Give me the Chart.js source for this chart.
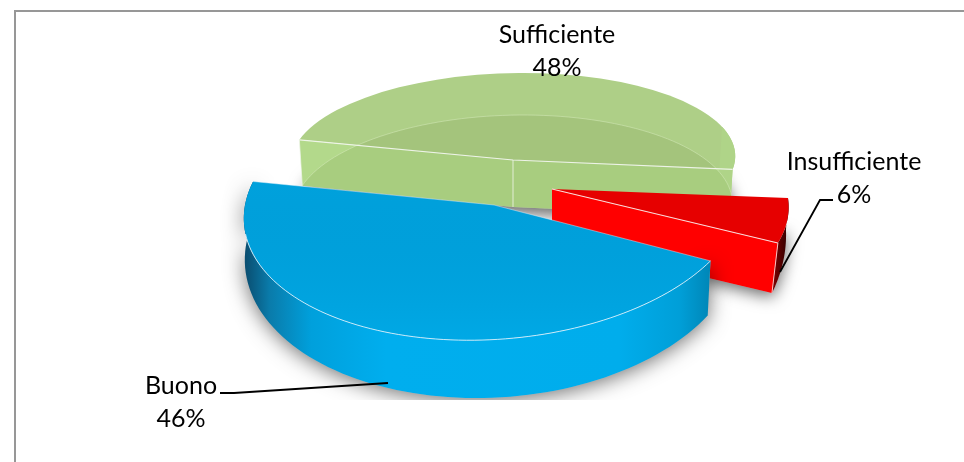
<!DOCTYPE html>
<html lang="en">
<head>
    <meta charset="UTF-8">
    <title>Giudizio 3D pie</title>
    <style>
        body { margin: 0; background: #fff; }
        #frame {
            position: absolute; left: 14px; top: 10px; right: 0; bottom: 0;
            border-top: 2px solid #979797;
            border-left: 2px solid #979797;
        }
        canvas { position: absolute; left: 0; top: 0; }
    </style>
</head>
<body>
    <div id="frame"></div>
    <canvas id="pie" width="964" height="462"></canvas>

    <script src="https://cdn.jsdelivr.net/npm/chart.js"></script>
    <script>
        var categories = ['Sufficiente', 'Insufficiente', 'Buono'];
        var values = [48, 6, 46];
        var faceColors = ['#AECF87', '#E60000', '#00A4E0'];

        // how each exploded slice is laid on the page (slice-plane to screen matrix, top and floor)
        var views = [
            { cx: 513, cy: 160, a: 222, b: 0, c: -10, d: 87,
              floor: { cx: 513, cy: 207, a: 219, b: 0, c: -10, d: 92 } },
            { cx: 552, cy: 189, a: 232.7, b: -4.4, c: 43, d: 124.2,
              floor: { cx: 552, cy: 241, a: 231.9, b: -29.2, c: 31.8, d: 166.9 } },
            { cx: 494, cy: 205, a: 250, b: -8, c: -10, d: 135,
              floor: { cx: 493, cy: 250, a: 248, b: -4, c: -10, d: 148 } }
        ];
        var labelSpots = [[557, 43], [854, 170], [181, 394]];
        var LINE = 33;

        function pt(v, t) {
            var u = Math.cos(t), w = Math.sin(t);
            return [v.cx + v.a * u + v.c * w, v.cy + v.b * u + v.d * w];
        }

        function arcPoints(v, t0, t1) {
            var pts = [], n = 80;
            for (var i = 0; i <= n; i++) pts.push(pt(v, t0 + (t1 - t0) * i / n));
            return pts;
        }

        function trace(ctx, pts) {
            pts.forEach(function(p, i) {
                if (i === 0) ctx.moveTo(p[0], p[1]); else ctx.lineTo(p[0], p[1]);
            });
        }

        function fillPoly(ctx, pts, fill) {
            ctx.beginPath();
            trace(ctx, pts);
            ctx.closePath();
            ctx.fillStyle = fill;
            ctx.fill();
        }

        function strokePoly(ctx, pts, color, w) {
            ctx.beginPath();
            trace(ctx, pts);
            ctx.strokeStyle = color;
            ctx.lineWidth = w || 1;
            ctx.stroke();
        }

        function outerWall(v, t0, t1) {
            return arcPoints(v, t0, t1).concat(arcPoints(v.floor, t1, t0));
        }

        function cutWall(v, t) {
            return [[v.cx, v.cy], pt(v, t), pt(v.floor, t), [v.floor.cx, v.floor.cy]];
        }

        function footprint(v, t0, t1) {
            return [[v.floor.cx, v.floor.cy]].concat(arcPoints(v.floor, t0, t1));
        }

        function dropShadow(ctx, pts, blur, alpha, offY, clipBottom) {
            ctx.save();
            ctx.beginPath();
            ctx.rect(0, 0, 964, clipBottom);
            ctx.clip();
            ctx.shadowColor = 'rgba(0,0,0,' + alpha + ')';
            ctx.shadowBlur = blur;
            ctx.shadowOffsetY = offY;
            fillPoly(ctx, pts, '#bbbbbb');
            ctx.restore();
        }

        function drawFace(ctx, arc, v) {
            var R = arc.outerRadius;
            ctx.save();
            ctx.transform(v.a / R, v.b / R, v.c / R, v.d / R, v.cx, v.cy);
            ctx.translate(-arc.x, -arc.y);
            arc.draw(ctx);
            ctx.restore();
        }

        var pie3d = {
            id: 'pie3d',
            beforeDatasetDraw: function(chart, args) {
                var ctx = chart.ctx;
                var arcs = args.meta.data;
                var green = arcs[0], red = arcs[1], blue = arcs[2];
                var vg = views[0], vr = views[1], vb = views[2];

                // soft shadows on the page first
                dropShadow(ctx, footprint(vg, green.startAngle, green.endAngle), 16, 0.6, 6, 462);
                dropShadow(ctx, footprint(vr, red.startAngle, red.endAngle).concat(cutWall(vr, red.endAngle)), 16, 0.6, 4, 462);

                // Sufficiente, see-through
                drawFace(ctx, green, vg);
                var wallG = '#B3D98B';
                fillPoly(ctx, cutWall(vg, green.startAngle), wallG);
                fillPoly(ctx, cutWall(vg, green.endAngle), wallG);
                fillPoly(ctx, outerWall(vg, green.endAngle - 0.5, green.endAngle), '#AFD488');
                // floor of the slice showing through
                fillPoly(ctx, footprint(vg, green.startAngle, green.endAngle), 'rgba(110,140,70,0.16)');
                strokePoly(ctx, arcPoints(vg.floor, green.startAngle, green.endAngle), 'rgba(215,235,190,0.5)', 1);
                var gl = pt(vg, green.startAngle), gr = pt(vg, green.endAngle);
                strokePoly(ctx, [gl, [vg.cx, vg.cy], gr], 'rgba(240,245,235,0.95)', 1.2);
                strokePoly(ctx, [[vg.cx, vg.cy], [vg.floor.cx, vg.floor.cy]], 'rgba(240,245,235,0.8)', 1);
                strokePoly(ctx, [gl, pt(vg.floor, green.startAngle)], 'rgba(240,245,235,0.7)', 1);

                // Insufficiente
                var darkRed = ctx.createLinearGradient(770, 0, 792, 0);
                darkRed.addColorStop(0, '#8a0000');
                darkRed.addColorStop(1, '#1c0000');
                fillPoly(ctx, outerWall(vr, red.startAngle, red.endAngle), darkRed);
                drawFace(ctx, red, vr);
                fillPoly(ctx, cutWall(vr, red.endAngle), '#FF0000');
                var rc = pt(vr, red.endAngle);
                strokePoly(ctx, [[vr.cx, vr.cy], rc], 'rgba(255,225,225,0.95)', 1.1);
                strokePoly(ctx, [rc, pt(vr.floor, red.endAngle)], 'rgba(255,210,210,0.9)', 1);

                // Buono
                var bPts = outerWall(vb, blue.startAngle, blue.endAngle);
                dropShadow(ctx, bPts, 20, 0.55, 3, 400);
                var wallB = ctx.createLinearGradient(246, 0, 712, 0);
                wallB.addColorStop(0, '#0A4F72');
                wallB.addColorStop(0.05, '#0A7BAA');
                wallB.addColorStop(0.14, '#00A0DC');
                wallB.addColorStop(0.3, '#00AEEE');
                wallB.addColorStop(0.8, '#00ADEC');
                wallB.addColorStop(0.93, '#009FD8');
                wallB.addColorStop(1, '#0085B5');
                fillPoly(ctx, bPts, wallB);
                drawFace(ctx, blue, vb);
                var sheen = ctx.createLinearGradient(0, 180, 0, 340);
                sheen.addColorStop(0, 'rgba(0,70,110,0.03)');
                sheen.addColorStop(1, 'rgba(0,190,255,0.18)');
                fillPoly(ctx, [[vb.cx, vb.cy]].concat(arcPoints(vb, blue.startAngle, blue.endAngle)), sheen);
                strokePoly(ctx, arcPoints(vb, Math.PI * 0.95, blue.startAngle), 'rgba(225,245,255,0.85)', 1);
                strokePoly(ctx, [pt(vb, blue.endAngle), [vb.cx, vb.cy], pt(vb, blue.startAngle)], 'rgba(225,240,250,0.45)', 1);

                return false; // slices are done, skip the flat pie
            },
            afterDraw: function(chart) {
                var ctx = chart.ctx;
                // leader lines
                strokePoly(ctx, [[833, 200], [820, 200], [780, 272]], '#000', 1.8);
                strokePoly(ctx, [[220, 393], [234, 393], [388, 383]], '#000', 1.8);

                ctx.font = '25px Lato';
                ctx.fillStyle = '#000';
                ctx.textAlign = 'center';
                ctx.textBaseline = 'alphabetic';
                var total = values.reduce(function(s, x) { return s + x; }, 0);
                categories.forEach(function(name, i) {
                    var s = labelSpots[i];
                    ctx.fillText(name, s[0], s[1]);
                    ctx.fillText(Math.round(values[i] / total * 100) + '%', s[0], s[1] + LINE);
                });
            }
        };

        new Chart(document.getElementById('pie'), {
            type: 'pie',
            data: {
                labels: categories,
                datasets: [{
                    data: values,
                    backgroundColor: faceColors,
                    borderWidth: 0,
                    hoverOffset: 0
                }]
            },
            options: {
                responsive: false,
                animation: false,
                rotation: -76.6,
                radius: 200,
                plugins: { legend: { display: false }, tooltip: { enabled: false } }
            },
            plugins: [pie3d]
        });
    </script>
</body>
</html>
